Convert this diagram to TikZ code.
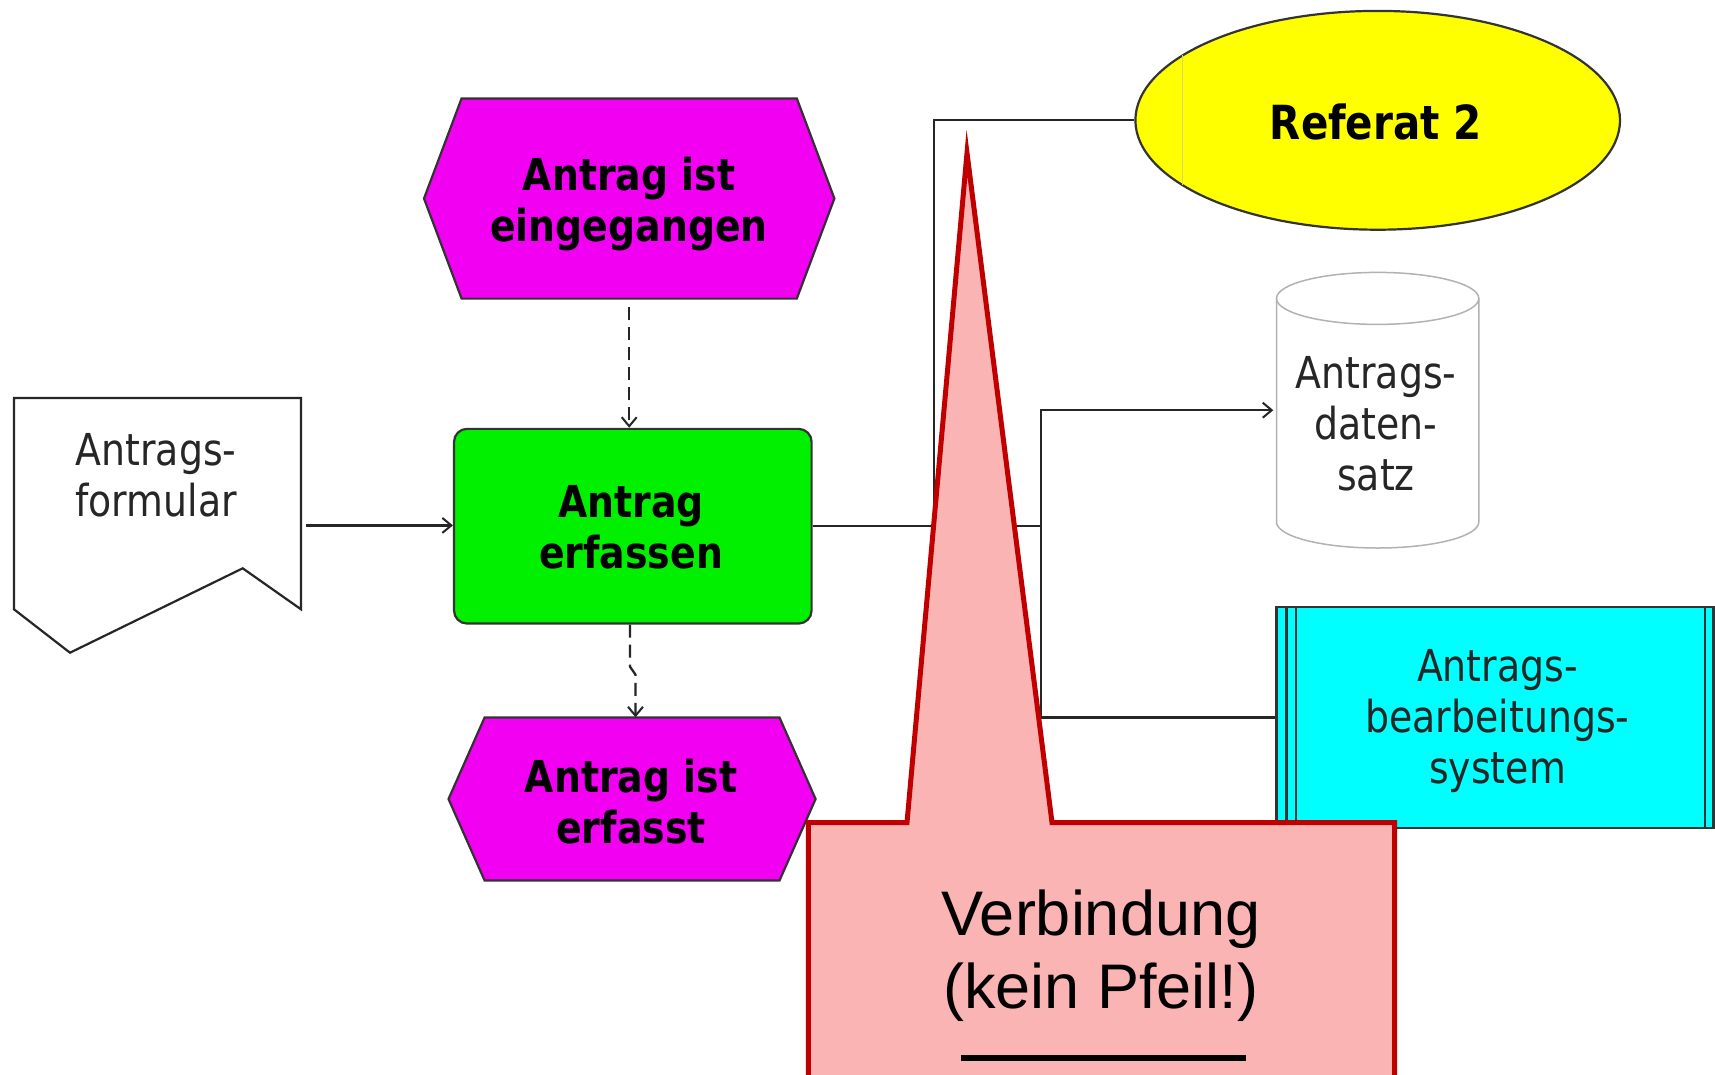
\documentclass[tikz,border=0pt]{standalone}
\usepackage{fontspec}
\usetikzlibrary{arrows.meta,shapes.geometric}
\newfontfamily\tah[FakeStretch=0.86]{DejaVu Sans}
\newfontfamily\ari{Liberation Sans}
\definecolor{evmag}{RGB}{242,0,242}
\definecolor{fngreen}{RGB}{0,240,0}
\definecolor{orgyel}{RGB}{255,255,0}
\definecolor{orgline}{RGB}{215,215,110}
\definecolor{syscyan}{RGB}{0,255,255}
\definecolor{calpink}{RGB}{251,180,180}
\definecolor{calred}{RGB}{192,0,0}
\begin{document}
\begin{tikzpicture}[x=1pt,y=1pt,
  conn/.style={line width=2.3pt,draw=black!85},
  arr/.style={-{Straight Barb[length=9pt,width=15pt,line width=2pt]}},
  dsh/.style={dash pattern=on 13pt off 7pt},
  outl/.style={draw=black!80,line width=2.2pt},
  area/.style={inner sep=0,draw=none},
  txt/.style={font=\tah\fontsize{44}{51}\selectfont,align=center,inner sep=0,text=black!85},
  btxt/.style={font=\tah\bfseries\fontsize{44}{51}\selectfont,align=center,inner sep=0,text=black},
  ctxt/.style={font=\ari\fontsize{63}{73}\selectfont,anchor=base,inner sep=0,text=black}]
\useasboundingbox (0,0) rectangle (1715,-1074);
\clip (0,0) rectangle (1715,-1074);
\fill[white] (0,0) rectangle (1715,-1074);

% document: Antragsformular
\draw[outl,draw=black!85,fill=white] (14,-398) -- (301,-398) -- (301,-609.3) -- (242.7,-568.3) -- (70,-652.7) -- (14,-609.3) -- cycle;
\node[area,minimum width=287pt,minimum height=254.7pt] (doc) at (157.5,-525.4) {};
\node[txt] (doct) at (156,-475) {Antrags-\\formular};

% event 1
\draw[outl,fill=evmag] (424,-198.5) -- (461.6,-98.4) -- (796.8,-98.4) -- (834.4,-198.5) -- (796.8,-298.6) -- (461.6,-298.6) -- cycle;
\node[area,minimum width=410.4pt,minimum height=200.2pt] (ev1) at (629.2,-198.5) {};
\node[btxt] (ev1t) at (629,-204) {Antrag ist\\eingegangen};

% function
\node[outl,fill=fngreen,rounded corners=13pt,inner sep=0,minimum width=357.6pt,minimum height=194.7pt] (fn) at (632.8,-526.2) {};
\node[btxt] (fnt) at (631,-527) {Antrag\\erfassen};

% event 2
\draw[outl,fill=evmag] (448.5,-799) -- (484.6,-717.5) -- (779.5,-717.5) -- (815.6,-799) -- (779.5,-880.5) -- (484.6,-880.5) -- cycle;
\node[area,minimum width=367.1pt,minimum height=163pt] (ev2) at (632,-799) {};
\node[btxt] (ev2t) at (631,-802) {Antrag ist\\erfasst};

% organisational unit
\node[ellipse,outl,fill=orgyel,inner sep=0,minimum width=484.6pt,minimum height=218.8pt] (org) at (1377.7,-120.3) {};
\draw[draw=orgline,line width=1.5pt] (1182.7,-55.4) -- (1182.7,-185.2);
\node[btxt,font=\tah\bfseries\fontsize{47}{54}\selectfont] (orgt) at (1376,-121.5) {Referat 2};

% data store (cylinder)
\draw[draw=black!30,line width=1.5pt,fill=white] (1276.5,-298.4) -- (1276.5,-522) arc[start angle=180,end angle=360,x radius=101.15,y radius=26] -- (1478.8,-298.4);
\draw[draw=black!30,line width=1.5pt] (1377.65,-298.4) ellipse[x radius=101.15,y radius=26];
\node[area,minimum width=202.3pt,minimum height=275.6pt] (db) at (1377.65,-410.2) {};
\node[txt] (dbt) at (1376,-424) {Antrags-\\daten-\\satz};

% application system
\node[outl,fill=syscyan,inner sep=0,minimum width=437pt,minimum height=221pt] (sys) at (1495,-717.5) {};
\draw[outl] ([xshift=11pt]sys.north west) -- ([xshift=11pt]sys.south west);
\draw[outl] ([xshift=20.5pt]sys.north west) -- ([xshift=20.5pt]sys.south west);
\draw[outl] ([xshift=-9.5pt]sys.north east) -- ([xshift=-9.5pt]sys.south east);
\node[txt] (syst) at (1497.5,-721) {Antrags-\\bearbeitungs-\\system};

% connectors
\draw[conn,arr,shorten <=5pt] (doc.east) -- (doc.east -| fn.west);
\draw[conn,dsh,arr,shorten <=8pt] (ev1.south) -- (ev1.south |- fn.north);
\draw[conn,dsh,arr] ([xshift=-2.8pt]fn.south) -- ++(0,-42) -- ++(5.5,-8) coordinate (jg) -- (jg |- ev2.north);
\coordinate (j1) at (934,-526.2);
\coordinate (j2) at (1041.3,-526.2);
\draw[conn] (fn.east) -- (j2);
\draw[conn] (j1) |- (org.west);
\draw[conn,arr,shorten >=3pt] (j2) |- (db.west);
\draw[conn] (j2) |- (sys.west);

% callout
\draw[draw=calred,fill=calpink,line width=5pt] (808.3,-822.5) -- (907,-822.5) -- (967,-153) -- (1052,-822.5) -- (1394.6,-822.5) -- (1394.6,-1090) -- (808.3,-1090) -- cycle;
\node[ctxt] (note1) at (1100.8,-935) {Verbindung};
\node[ctxt] (note2) at (1100.8,-1008) {(kein Pfeil!)};
\draw[line width=6pt] (961,-1057.7) -- (1245.7,-1057.7);
\end{tikzpicture}
\end{document}
